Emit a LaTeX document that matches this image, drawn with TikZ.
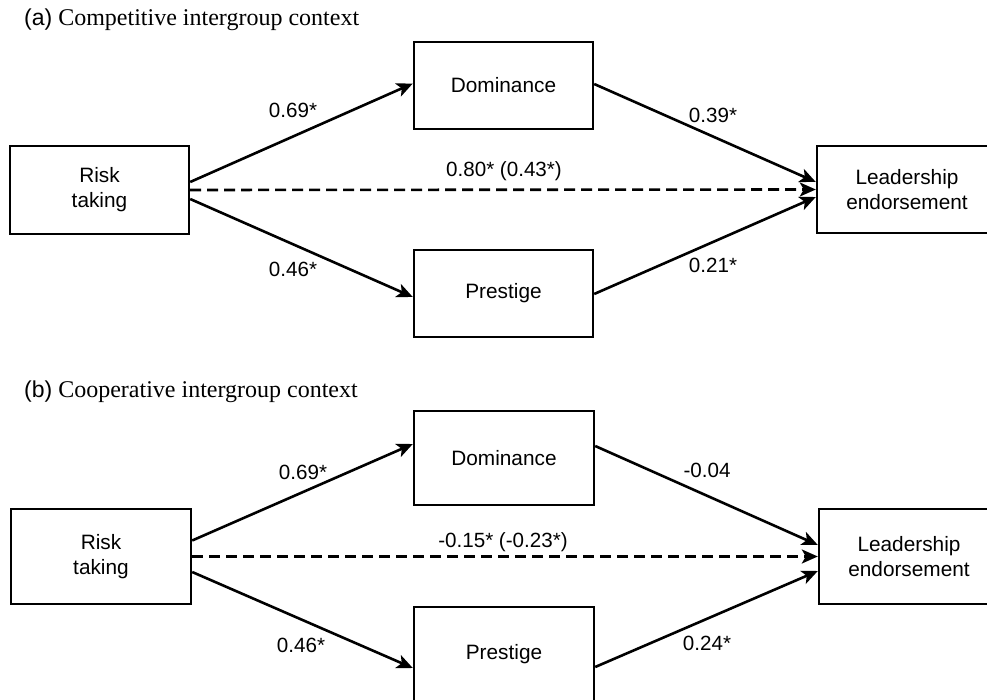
\documentclass[tikz,border=0pt]{standalone}
\usepackage{fontspec}
\setmainfont{Liberation Serif}
\newfontfamily\hv{Liberation Sans}
\usetikzlibrary{arrows.meta}
\begin{document}
\begin{tikzpicture}[x=1pt,y=-1pt,
  box/.style={draw, line width=2.4pt, minimum width=179pt, minimum height=88pt, inner sep=0pt, align=center, font=\hv\fontsize{20.8}{25}\selectfont},
  lbl/.style={inner sep=0pt, font=\hv\fontsize{20.6}{24}\selectfont},
  ttl/.style={inner sep=0pt, anchor=west, font=\fontsize{24}{28}\selectfont},
  arr/.style={line width=2.6pt, -{Stealth[length=16pt,width=14pt,inset=4pt]}},
  darr/.style={arr, dash pattern=on 11pt off 6pt}]
\useasboundingbox (0,0) rectangle (987,700);
\clip (0,0) rectangle (987,700);
\fill[white] (0,0) rectangle (987,700);
% ---------- panel (a)
\node[ttl] (ta) at (24,20) {{\hv\fontsize{23}{28}\selectfont(a)} Competitive intergroup context};
\node[box] (riskA) at (99.5,190) {Risk\\taking};
\node[box, minimum height=87pt] (domA) at (503.5,85.5) {Dominance};
\node[box, minimum height=87pt] (presA) at (503.5,293.5) {Prestige};
\node[box, minimum width=180pt, minimum height=87pt] (leadA) at (907,189.5) {Leadership\\endorsement};
\draw[arr] ([yshift=8pt]riskA.east) -- ([yshift=2pt]domA.west);
\draw[arr] ([yshift=-9pt]riskA.east) -- ([yshift=-3.5pt]presA.west);
\draw[darr] (riskA.east) -- (leadA.west);
\draw[arr] ([yshift=1.5pt]domA.east) -- ([yshift=7.5pt]leadA.west);
\draw[arr] ([yshift=-0.5pt]presA.east) -- ([yshift=-7.5pt]leadA.west);
\node[lbl] (a1) at (293,110) {0.69*};
\node[lbl] (a2) at (293,269) {0.46*};
\node[lbl] (a3) at (713,115) {0.39*};
\node[lbl] (a4) at (713,265) {0.21*};
\node[lbl] (a5) at (504,171) {0.80* (0.43*)};
% ---------- panel (b)
\node[ttl] (tb) at (24,392) {{\hv\fontsize{23}{28}\selectfont(b)} Cooperative intergroup context};
\node[box, minimum width=180pt, minimum height=95pt] (riskB) at (101,556.5) {Risk\\taking};
\node[box, minimum width=180pt, minimum height=94pt] (domB) at (504,458) {Dominance};
\node[box, minimum width=180pt, minimum height=94pt] (presB) at (504,654) {Prestige};
\node[box, minimum width=180pt, minimum height=95pt] (leadB) at (909,556.5) {Leadership\\endorsement};
\draw[arr] ([yshift=16pt]riskB.east) -- ([yshift=14pt]domB.west);
\draw[arr] ([yshift=-15.5pt]riskB.east) -- ([yshift=-14pt]presB.west);
\draw[darr] (riskB.east) -- (leadB.west);
\draw[arr] ([yshift=12pt]domB.east) -- ([yshift=11.5pt]leadB.west);
\draw[arr] ([yshift=-13pt]presB.east) -- ([yshift=-14.5pt]leadB.west);
\node[lbl] (b1) at (303,472) {0.69*};
\node[lbl] (b2) at (301,645) {0.46*};
\node[lbl] (b3) at (707,470) {-0.04};
\node[lbl] (b4) at (707,643) {0.24*};
\node[lbl] (b5) at (503,542) {-0.15* (-0.23*)};
\end{tikzpicture}
\end{document}
